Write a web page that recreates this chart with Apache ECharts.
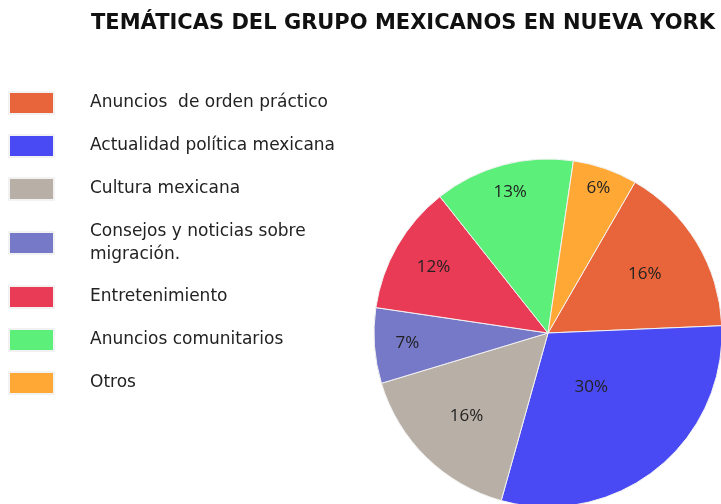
<!DOCTYPE html>
<html>
<head>
<meta charset="utf-8">
<script src="https://cdn.jsdelivr.net/npm/echarts@6/dist/echarts.min.js"></script>
<style>
  html, body { margin: 0; padding: 0; background: #fff; }
  #chart { width: 721px; height: 504px; }
</style>
</head>
<body>
<div id="chart"></div>
<script>
// categories and their shares (%)
const categories = [
  'Anuncios  de orden práctico',
  'Actualidad política mexicana',
  'Cultura mexicana',
  'Consejos y noticias sobre\nmigración.',
  'Entretenimiento',
  'Anuncios comunitarios',
  'Otros'
];
const values = [16, 30, 16, 7, 12, 13, 6];
const colors = ['#e8643a', '#4a4af5', '#b8afa7', '#7678c8', '#e93b56', '#5cf07a', '#ffa836'];

// how far out each percent label sits, as a fraction of the radius
const labelReach = [0.65, 0.4, 0.67, 0.81, 0.76, 0.84, 0.88];

const cx = 548, cy = 333, radius = 174, startAngle = 60;
const total = values.reduce((a, b) => a + b, 0);

const chart = echarts.init(document.getElementById('chart'), null, { renderer: 'canvas' });

chart.setOption({
  backgroundColor: '#fff',
  animation: false,
  color: colors,
  title: {
    text: 'TEMÁTICAS DEL GRUPO MEXICANOS EN NUEVA YORK',
    left: 86, top: 8,
    textStyle: { fontFamily: 'DejaVu Sans', fontWeight: 'bold', fontSize: 21, color: '#111' }
  },
  legend: {
    orient: 'vertical',
    left: 3, top: 86,
    itemWidth: 45, itemHeight: 22,
    itemGap: 19,
    icon: 'rect',
    selectedMode: false,
    textStyle: { fontFamily: 'DejaVu Sans', fontSize: 17, color: '#222', lineHeight: 23, padding: [0, 0, 0, 31] }
  },
  series: [{
    type: 'pie',
    center: [cx, cy],
    radius: radius,
    startAngle: startAngle,
    clockwise: true,
    itemStyle: { borderColor: '#f2f2f2', borderWidth: 1 },
    label: {
      position: 'inside',
      formatter: p => p.value + '%',
      fontFamily: 'Open Sans', fontSize: 17, color: '#222'
    },
    labelLine: { show: false },
    emphasis: { disabled: true },
    labelLayout: function (params) {
      let acc = 0;
      for (let i = 0; i < params.dataIndex; i++) acc += values[i];
      const mid = startAngle - (acc + values[params.dataIndex] / 2) / total * 360;
      const a = mid * Math.PI / 180;
      const k = labelReach[params.dataIndex] * radius;
      return { x: cx + k * Math.cos(a), y: cy - k * Math.sin(a), align: 'center', verticalAlign: 'middle' };
    },
    data: categories.map((c, i) => ({ name: c, value: values[i] }))
  }]
});
</script>
</body>
</html>
